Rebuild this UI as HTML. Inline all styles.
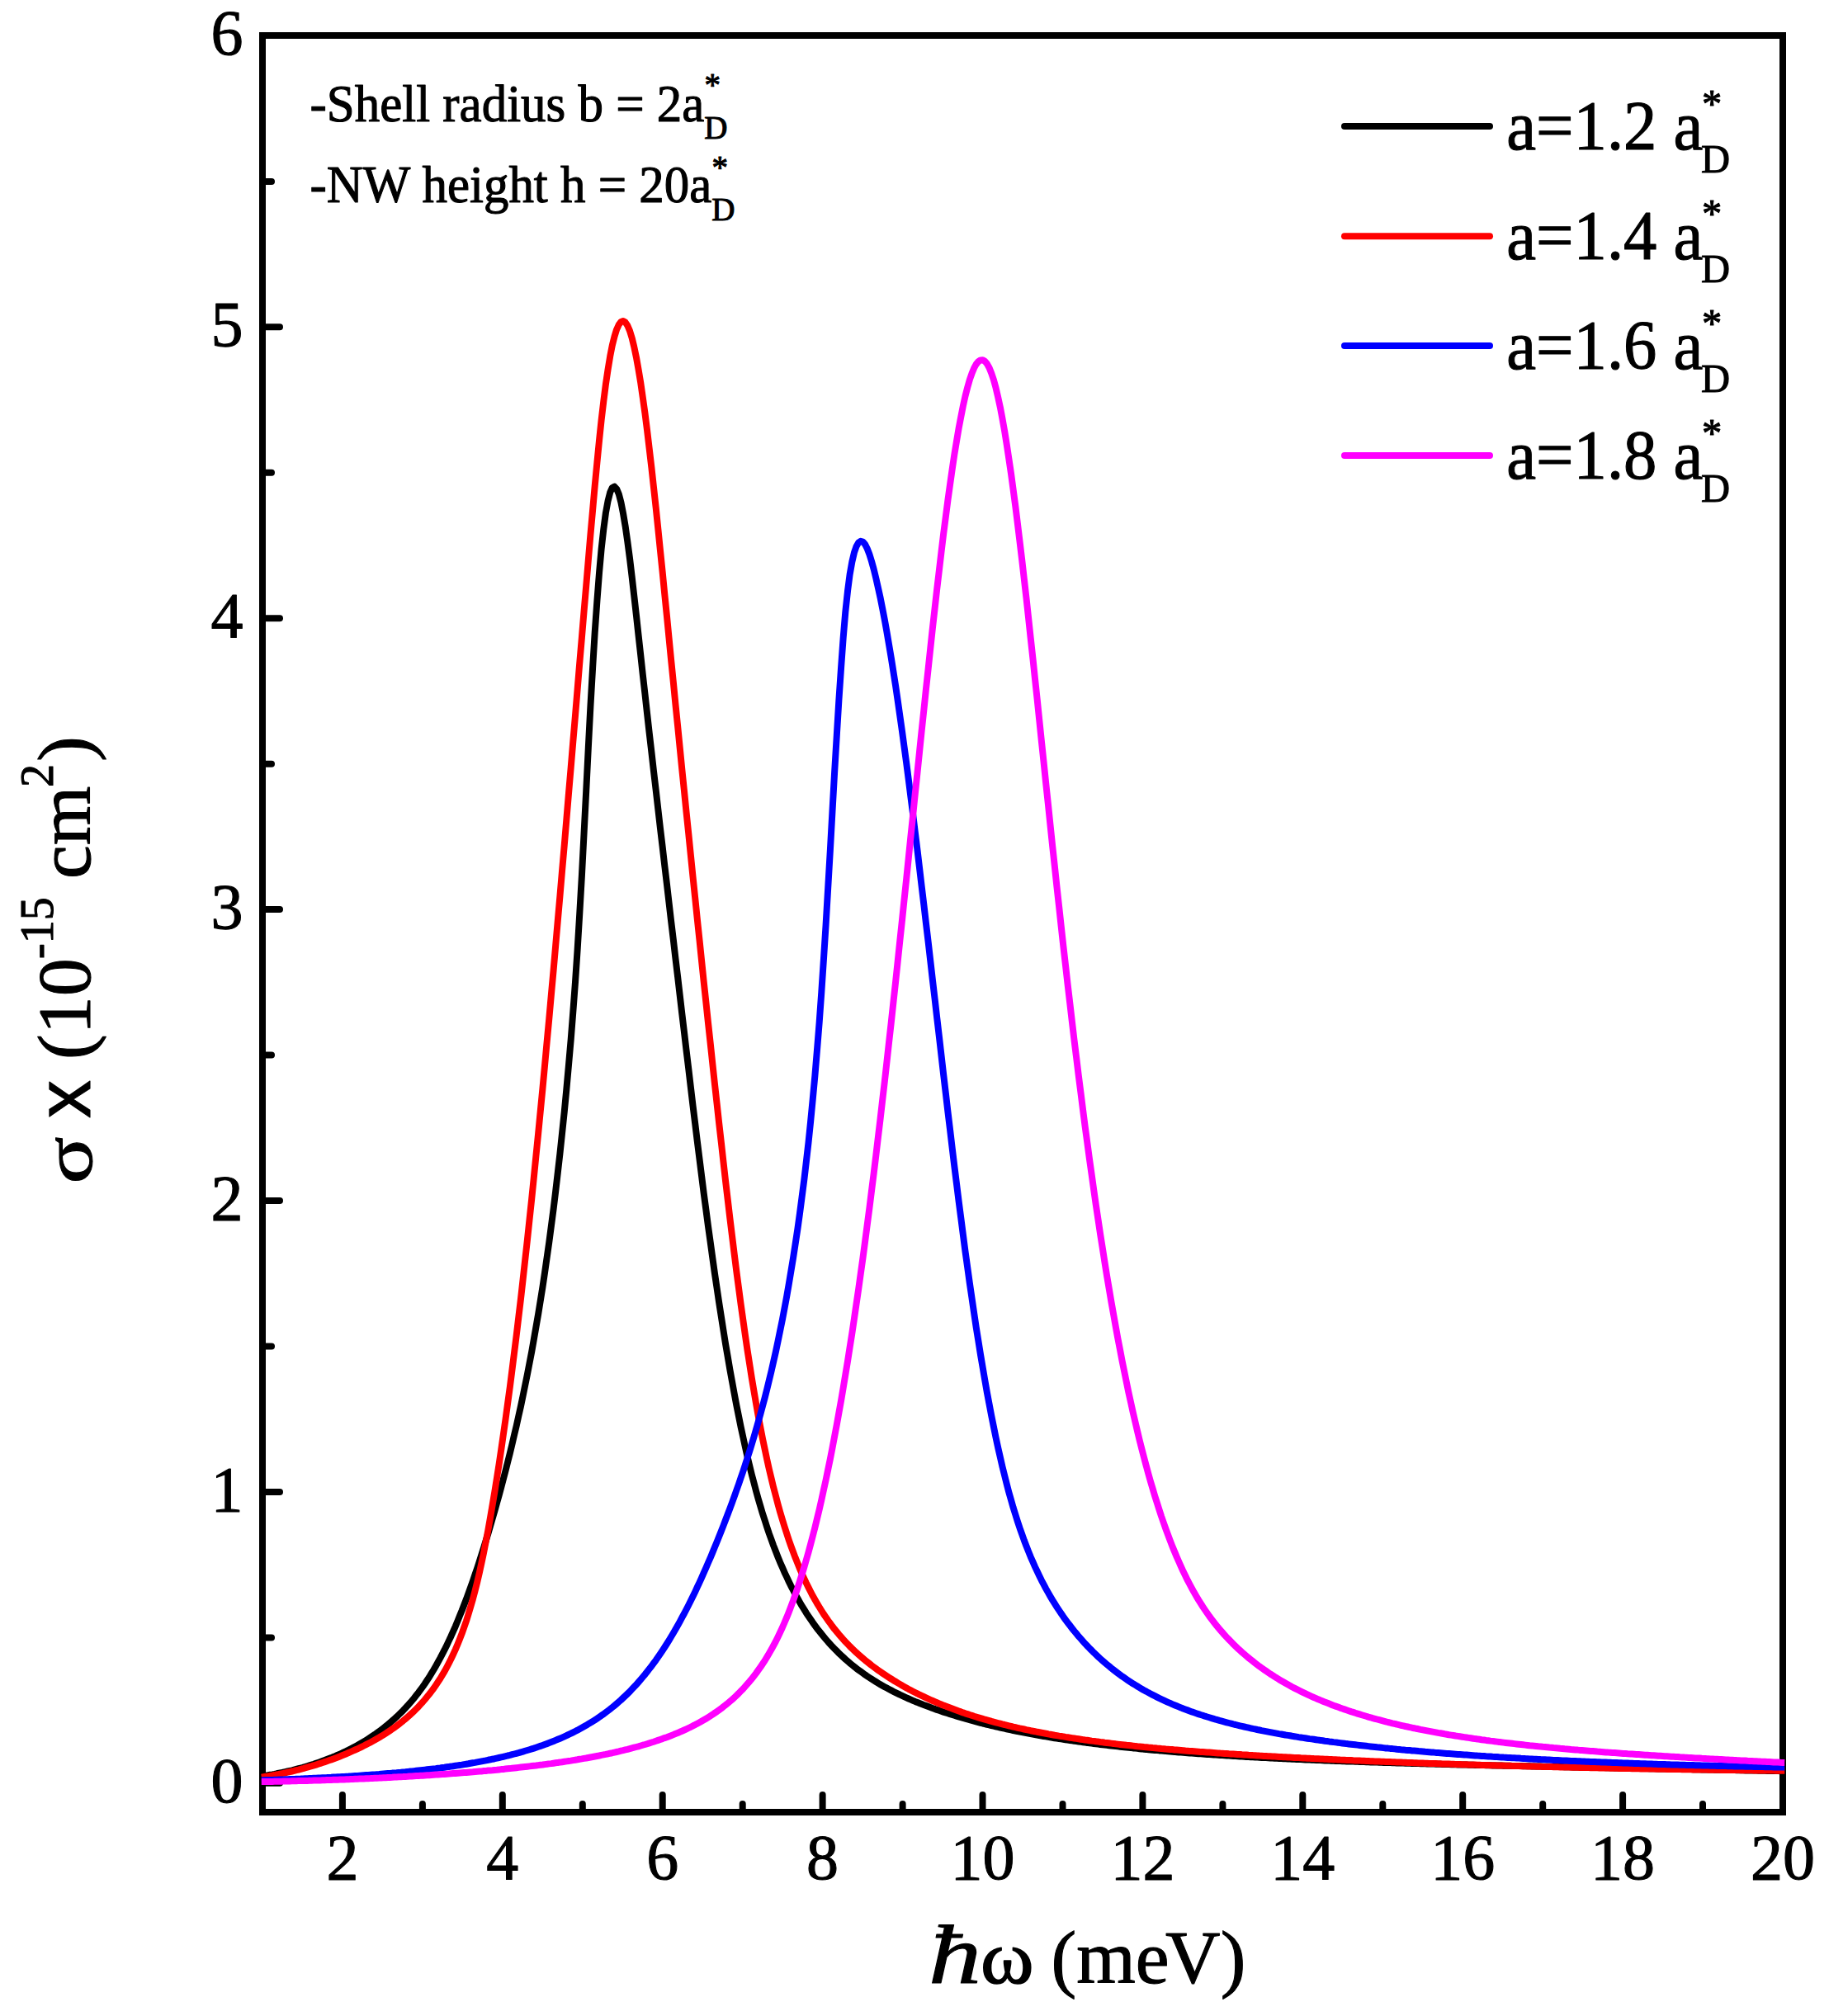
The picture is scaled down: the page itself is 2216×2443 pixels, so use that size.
<!DOCTYPE html>
<html lang="en"><head><meta charset="utf-8"><title>Photoionization cross-section</title>
<style>
html,body{margin:0;padding:0;background:#fff;}
body{width:2216px;height:2443px;overflow:hidden;}
svg{display:block;}
text{font-family:"Liberation Serif",serif;fill:#000;stroke:#000;stroke-width:1.1px;stroke-linejoin:round;}
.sans{font-family:"Liberation Sans",sans-serif;}
</style></head><body>
<svg width="2216" height="2443" viewBox="0 0 2216 2443">
<rect width="2216" height="2443" fill="#fff"/>

<rect x="318.0" y="43.0" width="1842.0" height="2153.0" fill="none" stroke="#000" stroke-width="8" stroke-linejoin="miter"/>
<g stroke="#000" stroke-width="8" stroke-linecap="round" fill="none">
<line x1="414.9" y1="2196.0" x2="414.9" y2="2175.0"/>
<line x1="511.9" y1="2196.0" x2="511.9" y2="2186.0"/>
<line x1="608.8" y1="2196.0" x2="608.8" y2="2175.0"/>
<line x1="705.8" y1="2196.0" x2="705.8" y2="2186.0"/>
<line x1="802.7" y1="2196.0" x2="802.7" y2="2175.0"/>
<line x1="899.7" y1="2196.0" x2="899.7" y2="2186.0"/>
<line x1="996.6" y1="2196.0" x2="996.6" y2="2175.0"/>
<line x1="1093.6" y1="2196.0" x2="1093.6" y2="2186.0"/>
<line x1="1190.5" y1="2196.0" x2="1190.5" y2="2175.0"/>
<line x1="1287.5" y1="2196.0" x2="1287.5" y2="2186.0"/>
<line x1="1384.4" y1="2196.0" x2="1384.4" y2="2175.0"/>
<line x1="1481.4" y1="2196.0" x2="1481.4" y2="2186.0"/>
<line x1="1578.3" y1="2196.0" x2="1578.3" y2="2175.0"/>
<line x1="1675.3" y1="2196.0" x2="1675.3" y2="2186.0"/>
<line x1="1772.2" y1="2196.0" x2="1772.2" y2="2175.0"/>
<line x1="1869.2" y1="2196.0" x2="1869.2" y2="2186.0"/>
<line x1="1966.1" y1="2196.0" x2="1966.1" y2="2175.0"/>
<line x1="2063.0" y1="2196.0" x2="2063.0" y2="2186.0"/>
<line x1="318.0" y1="2160.8" x2="339.0" y2="2160.8"/>
<line x1="318.0" y1="1984.4" x2="329.0" y2="1984.4"/>
<line x1="318.0" y1="1807.9" x2="339.0" y2="1807.9"/>
<line x1="318.0" y1="1631.5" x2="329.0" y2="1631.5"/>
<line x1="318.0" y1="1455.0" x2="339.0" y2="1455.0"/>
<line x1="318.0" y1="1278.6" x2="329.0" y2="1278.6"/>
<line x1="318.0" y1="1102.1" x2="339.0" y2="1102.1"/>
<line x1="318.0" y1="925.7" x2="329.0" y2="925.7"/>
<line x1="318.0" y1="749.2" x2="339.0" y2="749.2"/>
<line x1="318.0" y1="572.8" x2="329.0" y2="572.8"/>
<line x1="318.0" y1="396.3" x2="339.0" y2="396.3"/>
<line x1="318.0" y1="219.9" x2="329.0" y2="219.9"/>
</g>
<path d="M316.8 2152.6 L319.4 2152.2 L322.1 2151.7 L324.7 2151.3 L327.4 2150.8 L330.0 2150.4 L332.6 2149.9 L335.3 2149.3 L337.9 2148.8 L340.6 2148.3 L343.2 2147.7 L345.8 2147.1 L348.5 2146.5 L351.1 2145.9 L353.8 2145.3 L356.4 2144.6 L359.0 2143.9 L361.7 2143.2 L364.3 2142.5 L367.0 2141.8 L369.6 2141.0 L372.2 2140.2 L374.9 2139.4 L377.5 2138.6 L380.2 2137.8 L382.8 2136.9 L385.4 2136.0 L388.1 2135.1 L390.7 2134.1 L393.4 2133.1 L396.0 2132.1 L398.6 2131.1 L401.3 2130.1 L403.9 2129.0 L406.6 2127.9 L409.2 2126.7 L411.8 2125.6 L414.5 2124.4 L417.1 2123.1 L419.8 2121.9 L422.4 2120.6 L425.0 2119.2 L427.7 2117.8 L430.3 2116.4 L433.0 2115.0 L435.6 2113.5 L438.2 2112.0 L440.9 2110.4 L443.5 2108.8 L446.2 2107.1 L448.8 2105.4 L451.4 2103.7 L454.1 2101.9 L456.7 2100.0 L459.4 2098.1 L462.0 2096.1 L464.6 2094.1 L467.3 2092.0 L469.9 2089.9 L472.6 2087.6 L475.2 2085.3 L477.8 2083.0 L480.5 2080.6 L483.1 2078.0 L485.8 2075.4 L488.4 2072.8 L491.0 2070.0 L493.7 2067.1 L496.3 2064.1 L499.0 2061.1 L501.6 2057.9 L504.2 2054.6 L506.9 2051.2 L509.5 2047.7 L512.2 2044.0 L514.8 2040.2 L517.4 2036.2 L520.1 2032.2 L522.7 2027.9 L525.4 2023.5 L528.0 2019.0 L530.6 2014.3 L533.3 2009.4 L535.9 2004.4 L538.6 1999.2 L541.2 1993.9 L543.8 1988.4 L546.5 1982.7 L549.1 1976.8 L551.8 1970.8 L554.4 1964.5 L557.0 1958.1 L559.7 1951.5 L562.3 1944.7 L565.0 1937.8 L567.6 1930.6 L570.2 1923.3 L572.9 1915.8 L575.5 1908.1 L578.2 1900.2 L580.8 1892.2 L583.4 1883.9 L586.1 1875.5 L588.7 1867.0 L591.4 1858.3 L594.0 1849.4 L596.6 1840.4 L599.3 1831.2 L601.9 1821.8 L604.6 1812.2 L607.2 1802.5 L609.8 1792.5 L612.5 1782.3 L615.1 1771.9 L617.8 1761.3 L620.4 1750.4 L623.0 1739.2 L625.7 1727.8 L628.3 1716.0 L631.0 1704.0 L633.6 1691.5 L636.2 1678.7 L638.9 1665.5 L641.5 1651.9 L644.2 1637.9 L646.8 1623.3 L649.4 1608.3 L652.1 1592.7 L654.7 1576.6 L657.4 1559.8 L660.0 1542.3 L662.6 1524.2 L665.3 1505.3 L667.9 1485.5 L670.6 1465.0 L673.2 1443.5 L675.8 1421.0 L678.5 1397.4 L681.1 1372.7 L683.8 1346.8 L686.4 1319.5 L689.0 1290.5 L691.7 1259.6 L694.3 1226.3 L697.0 1190.3 L699.6 1151.2 L702.2 1108.3 L704.9 1061.3 L707.5 1011.0 L710.2 958.8 L712.8 906.4 L715.4 856.1 L718.1 809.3 L720.7 766.6 L723.4 728.3 L726.0 694.5 L728.6 665.5 L731.3 641.2 L733.9 621.6 L736.6 606.9 L739.2 596.7 L741.8 591.0 L744.5 589.7 L747.1 592.4 L749.8 598.8 L752.4 608.8 L755.0 622.0 L757.7 638.0 L760.3 656.3 L763.0 676.6 L765.6 698.5 L768.2 721.4 L770.9 745.2 L773.5 769.3 L776.2 793.6 L778.8 817.6 L781.5 841.4 L784.1 865.0 L786.7 888.3 L789.4 911.5 L792.0 934.6 L794.7 957.5 L797.3 980.4 L799.9 1003.1 L802.6 1025.8 L805.2 1048.4 L807.9 1071.0 L810.5 1093.6 L813.1 1116.1 L815.8 1138.6 L818.4 1161.1 L821.1 1183.6 L823.7 1206.0 L826.3 1228.5 L829.0 1250.9 L831.6 1273.3 L834.3 1295.6 L836.9 1317.8 L839.5 1339.8 L842.2 1361.6 L844.8 1383.1 L847.5 1404.4 L850.1 1425.3 L852.7 1445.9 L855.4 1466.1 L858.0 1485.9 L860.7 1505.3 L863.3 1524.3 L865.9 1542.9 L868.6 1561.0 L871.2 1578.6 L873.9 1595.8 L876.5 1612.5 L879.1 1628.8 L881.8 1644.5 L884.4 1659.8 L887.1 1674.6 L889.7 1688.9 L892.3 1702.8 L895.0 1716.1 L897.6 1729.1 L900.3 1741.5 L902.9 1753.5 L905.5 1765.1 L908.2 1776.2 L910.8 1786.9 L913.5 1797.1 L916.1 1807.0 L918.7 1816.4 L921.4 1825.5 L924.0 1834.3 L926.7 1842.6 L929.3 1850.7 L931.9 1858.5 L934.6 1865.9 L937.2 1873.1 L939.9 1880.0 L942.5 1886.7 L945.1 1893.1 L947.8 1899.2 L950.4 1905.2 L953.1 1910.9 L955.7 1916.5 L958.3 1921.8 L961.0 1927.0 L963.6 1931.9 L966.3 1936.7 L968.9 1941.4 L971.5 1945.9 L974.2 1950.2 L976.8 1954.4 L979.5 1958.4 L982.1 1962.3 L984.7 1966.1 L987.4 1969.8 L990.0 1973.4 L992.7 1976.8 L995.3 1980.1 L997.9 1983.3 L1000.6 1986.5 L1003.2 1989.5 L1005.9 1992.4 L1008.5 1995.3 L1011.1 1998.0 L1013.8 2000.7 L1016.4 2003.3 L1019.1 2005.9 L1021.7 2008.3 L1024.3 2010.7 L1027.0 2013.0 L1029.6 2015.3 L1032.3 2017.5 L1034.9 2019.6 L1037.5 2021.7 L1040.2 2023.7 L1042.8 2025.6 L1045.5 2027.5 L1048.1 2029.4 L1050.7 2031.2 L1053.4 2033.0 L1056.0 2034.7 L1058.7 2036.4 L1061.3 2038.0 L1063.9 2039.6 L1066.6 2041.2 L1069.2 2042.7 L1071.9 2044.2 L1074.5 2045.6 L1077.1 2047.0 L1079.8 2048.4 L1082.4 2049.8 L1085.1 2051.1 L1087.7 2052.4 L1090.3 2053.7 L1093.0 2054.9 L1095.6 2056.1 L1098.3 2057.3 L1100.9 2058.5 L1103.5 2059.6 L1106.2 2060.8 L1108.8 2061.9 L1111.5 2062.9 L1114.1 2064.0 L1116.7 2065.0 L1119.4 2066.1 L1122.0 2067.1 L1124.7 2068.1 L1127.3 2069.0 L1129.9 2070.0 L1132.6 2070.9 L1135.2 2071.9 L1137.9 2072.8 L1140.5 2073.7 L1143.1 2074.6 L1145.8 2075.5 L1148.4 2076.3 L1151.1 2077.2 L1153.7 2078.0 L1156.3 2078.8 L1159.0 2079.6 L1161.6 2080.4 L1164.3 2081.2 L1166.9 2082.0 L1169.5 2082.7 L1172.2 2083.5 L1174.8 2084.2 L1177.5 2085.0 L1180.1 2085.7 L1182.7 2086.4 L1185.4 2087.1 L1188.0 2087.8 L1190.7 2088.5 L1193.3 2089.1 L1195.9 2089.8 L1198.6 2090.4 L1201.2 2091.1 L1203.9 2091.7 L1206.5 2092.3 L1209.1 2092.9 L1211.8 2093.5 L1214.4 2094.1 L1217.1 2094.7 L1219.7 2095.3 L1222.3 2095.9 L1225.0 2096.4 L1227.6 2097.0 L1230.3 2097.5 L1232.9 2098.1 L1235.5 2098.6 L1238.2 2099.1 L1240.8 2099.6 L1243.5 2100.1 L1246.1 2100.6 L1248.7 2101.1 L1251.4 2101.6 L1254.0 2102.1 L1256.7 2102.6 L1259.3 2103.1 L1261.9 2103.5 L1264.6 2104.0 L1267.2 2104.4 L1269.9 2104.9 L1272.5 2105.3 L1275.1 2105.7 L1277.8 2106.2 L1280.4 2106.6 L1283.1 2107.0 L1285.7 2107.4 L1288.3 2107.8 L1291.0 2108.2 L1293.6 2108.6 L1296.3 2109.0 L1298.9 2109.4 L1301.5 2109.8 L1304.2 2110.1 L1306.8 2110.5 L1309.5 2110.9 L1312.1 2111.2 L1314.7 2111.6 L1317.4 2111.9 L1320.0 2112.3 L1322.7 2112.6 L1325.3 2113.0 L1327.9 2113.3 L1330.6 2113.6 L1333.2 2114.0 L1335.9 2114.3 L1338.5 2114.6 L1341.1 2114.9 L1343.8 2115.2 L1346.4 2115.5 L1349.1 2115.8 L1351.7 2116.1 L1354.3 2116.4 L1357.0 2116.7 L1359.6 2117.0 L1362.3 2117.3 L1364.9 2117.6 L1367.5 2117.8 L1370.2 2118.1 L1372.8 2118.4 L1375.5 2118.6 L1378.1 2118.9 L1380.7 2119.2 L1383.4 2119.4 L1386.0 2119.7 L1388.7 2119.9 L1391.3 2120.2 L1393.9 2120.4 L1396.6 2120.7 L1399.2 2120.9 L1401.9 2121.1 L1404.5 2121.4 L1407.1 2121.6 L1409.8 2121.8 L1412.4 2122.1 L1415.1 2122.3 L1417.7 2122.5 L1420.3 2122.7 L1423.0 2122.9 L1425.6 2123.2 L1428.3 2123.4 L1430.9 2123.6 L1433.5 2123.8 L1436.2 2124.0 L1438.8 2124.2 L1441.5 2124.4 L1444.1 2124.6 L1446.7 2124.8 L1449.4 2125.0 L1452.0 2125.2 L1454.7 2125.3 L1457.3 2125.5 L1459.9 2125.7 L1462.6 2125.9 L1465.2 2126.1 L1467.9 2126.3 L1470.5 2126.4 L1473.1 2126.6 L1475.8 2126.8 L1478.4 2126.9 L1481.1 2127.1 L1483.7 2127.3 L1486.3 2127.4 L1489.0 2127.6 L1491.6 2127.8 L1494.3 2127.9 L1496.9 2128.1 L1499.5 2128.2 L1502.2 2128.4 L1504.8 2128.6 L1507.5 2128.7 L1510.1 2128.9 L1512.7 2129.0 L1515.4 2129.2 L1518.0 2129.3 L1520.7 2129.4 L1523.3 2129.6 L1525.9 2129.7 L1528.6 2129.9 L1531.2 2130.0 L1533.9 2130.1 L1536.5 2130.3 L1539.1 2130.4 L1541.8 2130.5 L1544.4 2130.7 L1547.1 2130.8 L1549.7 2130.9 L1552.3 2131.1 L1555.0 2131.2 L1557.6 2131.3 L1560.3 2131.4 L1562.9 2131.6 L1565.5 2131.7 L1568.2 2131.8 L1570.8 2131.9 L1573.5 2132.0 L1576.1 2132.1 L1578.7 2132.3 L1581.4 2132.4 L1584.0 2132.5 L1586.7 2132.6 L1589.3 2132.7 L1591.9 2132.8 L1594.6 2132.9 L1597.2 2133.0 L1599.9 2133.1 L1602.5 2133.3 L1605.1 2133.4 L1607.8 2133.5 L1610.4 2133.6 L1613.1 2133.7 L1615.7 2133.8 L1618.3 2133.9 L1621.0 2134.0 L1623.6 2134.1 L1626.3 2134.2 L1628.9 2134.3 L1631.5 2134.4 L1634.2 2134.5 L1636.8 2134.5 L1639.5 2134.6 L1642.1 2134.7 L1644.7 2134.8 L1647.4 2134.9 L1650.0 2135.0 L1652.7 2135.1 L1655.3 2135.2 L1657.9 2135.3 L1660.6 2135.4 L1663.2 2135.4 L1665.9 2135.5 L1668.5 2135.6 L1671.1 2135.7 L1673.8 2135.8 L1676.4 2135.9 L1679.1 2136.0 L1681.7 2136.0 L1684.3 2136.1 L1687.0 2136.2 L1689.6 2136.3 L1692.3 2136.4 L1694.9 2136.4 L1697.5 2136.5 L1700.2 2136.6 L1702.8 2136.7 L1705.5 2136.7 L1708.1 2136.8 L1710.8 2136.9 L1713.4 2137.0 L1716.0 2137.0 L1718.7 2137.1 L1721.3 2137.2 L1724.0 2137.3 L1726.6 2137.3 L1729.2 2137.4 L1731.9 2137.5 L1734.5 2137.5 L1737.2 2137.6 L1739.8 2137.7 L1742.4 2137.8 L1745.1 2137.8 L1747.7 2137.9 L1750.4 2138.0 L1753.0 2138.0 L1755.6 2138.1 L1758.3 2138.2 L1760.9 2138.2 L1763.6 2138.3 L1766.2 2138.4 L1768.8 2138.4 L1771.5 2138.5 L1774.1 2138.6 L1776.8 2138.6 L1779.4 2138.7 L1782.0 2138.7 L1784.7 2138.8 L1787.3 2138.9 L1790.0 2138.9 L1792.6 2139.0 L1795.2 2139.1 L1797.9 2139.1 L1800.5 2139.2 L1803.2 2139.2 L1805.8 2139.3 L1808.4 2139.4 L1811.1 2139.4 L1813.7 2139.5 L1816.4 2139.5 L1819.0 2139.6 L1821.6 2139.7 L1824.3 2139.7 L1826.9 2139.8 L1829.6 2139.8 L1832.2 2139.9 L1834.8 2139.9 L1837.5 2140.0 L1840.1 2140.1 L1842.8 2140.1 L1845.4 2140.2 L1848.0 2140.2 L1850.7 2140.3 L1853.3 2140.3 L1856.0 2140.4 L1858.6 2140.4 L1861.2 2140.5 L1863.9 2140.6 L1866.5 2140.6 L1869.2 2140.7 L1871.8 2140.7 L1874.4 2140.8 L1877.1 2140.8 L1879.7 2140.9 L1882.4 2140.9 L1885.0 2141.0 L1887.6 2141.0 L1890.3 2141.1 L1892.9 2141.1 L1895.6 2141.2 L1898.2 2141.2 L1900.8 2141.3 L1903.5 2141.3 L1906.1 2141.4 L1908.8 2141.5 L1911.4 2141.5 L1914.0 2141.6 L1916.7 2141.6 L1919.3 2141.7 L1922.0 2141.7 L1924.6 2141.8 L1927.2 2141.8 L1929.9 2141.9 L1932.5 2141.9 L1935.2 2142.0 L1937.8 2142.0 L1940.4 2142.1 L1943.1 2142.1 L1945.7 2142.2 L1948.4 2142.2 L1951.0 2142.3 L1953.6 2142.3 L1956.3 2142.4 L1958.9 2142.4 L1961.6 2142.5 L1964.2 2142.5 L1966.8 2142.6 L1969.5 2142.6 L1972.1 2142.7 L1974.8 2142.7 L1977.4 2142.8 L1980.0 2142.8 L1982.7 2142.9 L1985.3 2142.9 L1988.0 2143.0 L1990.6 2143.0 L1993.2 2143.1 L1995.9 2143.1 L1998.5 2143.2 L2001.2 2143.2 L2003.8 2143.3 L2006.4 2143.3 L2009.1 2143.4 L2011.7 2143.4 L2014.4 2143.5 L2017.0 2143.5 L2019.6 2143.6 L2022.3 2143.6 L2024.9 2143.7 L2027.6 2143.7 L2030.2 2143.8 L2032.8 2143.8 L2035.5 2143.9 L2038.1 2143.9 L2040.8 2144.0 L2043.4 2144.0 L2046.0 2144.1 L2048.7 2144.1 L2051.3 2144.2 L2054.0 2144.2 L2056.6 2144.3 L2059.2 2144.3 L2061.9 2144.4 L2064.5 2144.4 L2067.2 2144.5 L2069.8 2144.5 L2072.4 2144.6 L2075.1 2144.6 L2077.7 2144.7 L2080.4 2144.7 L2083.0 2144.8 L2085.6 2144.8 L2088.3 2144.9 L2090.9 2144.9 L2093.6 2145.0 L2096.2 2145.0 L2098.8 2145.1 L2101.5 2145.1 L2104.1 2145.2 L2106.8 2145.2 L2109.4 2145.3 L2112.0 2145.3 L2114.7 2145.4 L2117.3 2145.4 L2120.0 2145.5 L2122.6 2145.5 L2125.2 2145.6 L2127.9 2145.6 L2130.5 2145.7 L2133.2 2145.7 L2135.8 2145.8 L2138.4 2145.8 L2141.1 2145.9 L2143.7 2145.9 L2146.4 2146.0 L2149.0 2146.0 L2151.6 2146.1 L2154.3 2146.1 L2156.9 2146.2 L2159.6 2146.2 L2162.2 2146.3" fill="none" stroke="#000000" stroke-width="8" stroke-linejoin="round" stroke-linecap="butt"/>
<path d="M316.8 2153.6 L319.4 2153.2 L322.1 2152.8 L324.7 2152.4 L327.4 2151.9 L330.0 2151.5 L332.6 2151.0 L335.3 2150.5 L337.9 2150.0 L340.6 2149.4 L343.2 2148.9 L345.8 2148.3 L348.5 2147.7 L351.1 2147.1 L353.8 2146.5 L356.4 2145.9 L359.0 2145.2 L361.7 2144.6 L364.3 2143.9 L367.0 2143.2 L369.6 2142.4 L372.2 2141.7 L374.9 2140.9 L377.5 2140.2 L380.2 2139.4 L382.8 2138.6 L385.4 2137.7 L388.1 2136.9 L390.7 2136.0 L393.4 2135.1 L396.0 2134.2 L398.6 2133.3 L401.3 2132.4 L403.9 2131.4 L406.6 2130.4 L409.2 2129.4 L411.8 2128.4 L414.5 2127.3 L417.1 2126.3 L419.8 2125.2 L422.4 2124.0 L425.0 2122.9 L427.7 2121.7 L430.3 2120.5 L433.0 2119.3 L435.6 2118.1 L438.2 2116.8 L440.9 2115.5 L443.5 2114.2 L446.2 2112.8 L448.8 2111.4 L451.4 2110.0 L454.1 2108.5 L456.7 2107.0 L459.4 2105.5 L462.0 2103.9 L464.6 2102.3 L467.3 2100.6 L469.9 2098.9 L472.6 2097.1 L475.2 2095.3 L477.8 2093.4 L480.5 2091.5 L483.1 2089.5 L485.8 2087.4 L488.4 2085.3 L491.0 2083.1 L493.7 2080.9 L496.3 2078.5 L499.0 2076.1 L501.6 2073.6 L504.2 2071.0 L506.9 2068.3 L509.5 2065.4 L512.2 2062.5 L514.8 2059.5 L517.4 2056.3 L520.1 2053.0 L522.7 2049.6 L525.4 2046.0 L528.0 2042.2 L530.6 2038.3 L533.3 2034.2 L535.9 2029.9 L538.6 2025.4 L541.2 2020.6 L543.8 2015.6 L546.5 2010.3 L549.1 2004.8 L551.8 1998.9 L554.4 1992.7 L557.0 1986.2 L559.7 1979.3 L562.3 1971.9 L565.0 1964.2 L567.6 1955.9 L570.2 1947.2 L572.9 1937.8 L575.5 1927.9 L578.2 1917.3 L580.8 1906.1 L583.4 1894.1 L586.1 1881.4 L588.7 1868.1 L591.4 1854.0 L594.0 1839.3 L596.6 1823.9 L599.3 1808.0 L601.9 1791.5 L604.6 1774.5 L607.2 1756.9 L609.8 1738.7 L612.5 1720.0 L615.1 1700.8 L617.8 1681.0 L620.4 1660.6 L623.0 1639.7 L625.7 1618.2 L628.3 1596.2 L631.0 1573.7 L633.6 1550.5 L636.2 1526.9 L638.9 1502.7 L641.5 1478.0 L644.2 1452.8 L646.8 1427.1 L649.4 1400.9 L652.1 1374.2 L654.7 1347.1 L657.4 1319.5 L660.0 1291.5 L662.6 1263.1 L665.3 1234.3 L667.9 1205.1 L670.6 1175.6 L673.2 1145.7 L675.8 1115.6 L678.5 1085.2 L681.1 1054.5 L683.8 1023.7 L686.4 992.6 L689.0 961.4 L691.7 930.0 L694.3 898.6 L697.0 867.1 L699.6 835.6 L702.2 804.1 L704.9 772.6 L707.5 741.3 L710.2 710.0 L712.8 678.9 L715.4 648.2 L718.1 618.1 L720.7 588.8 L723.4 560.7 L726.0 534.0 L728.6 509.1 L731.3 486.3 L733.9 465.8 L736.6 447.6 L739.2 431.8 L741.8 418.5 L744.5 407.7 L747.1 399.3 L749.8 393.4 L752.4 390.0 L755.0 389.1 L757.7 390.6 L760.3 394.5 L763.0 400.8 L765.6 409.3 L768.2 420.0 L770.9 432.8 L773.5 447.4 L776.2 463.7 L778.8 481.7 L781.5 501.1 L784.1 521.8 L786.7 543.8 L789.4 566.7 L792.0 590.6 L794.7 615.3 L797.3 640.6 L799.9 666.4 L802.6 692.7 L805.2 719.3 L807.9 746.0 L810.5 772.8 L813.1 799.7 L815.8 826.4 L818.4 853.1 L821.1 879.6 L823.7 906.0 L826.3 932.4 L829.0 958.6 L831.6 984.7 L834.3 1010.7 L836.9 1036.6 L839.5 1062.4 L842.2 1088.1 L844.8 1113.7 L847.5 1139.2 L850.1 1164.5 L852.7 1189.6 L855.4 1214.7 L858.0 1239.5 L860.7 1264.2 L863.3 1288.8 L865.9 1313.1 L868.6 1337.3 L871.2 1361.2 L873.9 1384.9 L876.5 1408.4 L879.1 1431.5 L881.8 1454.2 L884.4 1476.5 L887.1 1498.4 L889.7 1519.7 L892.3 1540.5 L895.0 1560.8 L897.6 1580.5 L900.3 1599.6 L902.9 1618.0 L905.5 1635.9 L908.2 1653.2 L910.8 1669.8 L913.5 1685.8 L916.1 1701.1 L918.7 1715.9 L921.4 1730.0 L924.0 1743.5 L926.7 1756.4 L929.3 1768.8 L931.9 1780.5 L934.6 1791.8 L937.2 1802.6 L939.9 1812.8 L942.5 1822.7 L945.1 1832.1 L947.8 1841.1 L950.4 1849.7 L953.1 1858.0 L955.7 1865.9 L958.3 1873.4 L961.0 1880.7 L963.6 1887.6 L966.3 1894.3 L968.9 1900.7 L971.5 1906.8 L974.2 1912.6 L976.8 1918.2 L979.5 1923.6 L982.1 1928.8 L984.7 1933.8 L987.4 1938.5 L990.0 1943.1 L992.7 1947.5 L995.3 1951.8 L997.9 1955.9 L1000.6 1959.8 L1003.2 1963.6 L1005.9 1967.2 L1008.5 1970.8 L1011.1 1974.2 L1013.8 1977.4 L1016.4 1980.6 L1019.1 1983.7 L1021.7 1986.6 L1024.3 1989.5 L1027.0 1992.3 L1029.6 1995.0 L1032.3 1997.6 L1034.9 2000.1 L1037.5 2002.6 L1040.2 2005.0 L1042.8 2007.3 L1045.5 2009.6 L1048.1 2011.8 L1050.7 2013.9 L1053.4 2016.0 L1056.0 2018.1 L1058.7 2020.1 L1061.3 2022.0 L1063.9 2023.9 L1066.6 2025.8 L1069.2 2027.6 L1071.9 2029.4 L1074.5 2031.1 L1077.1 2032.8 L1079.8 2034.5 L1082.4 2036.2 L1085.1 2037.8 L1087.7 2039.4 L1090.3 2040.9 L1093.0 2042.5 L1095.6 2043.9 L1098.3 2045.4 L1100.9 2046.9 L1103.5 2048.3 L1106.2 2049.7 L1108.8 2051.0 L1111.5 2052.3 L1114.1 2053.7 L1116.7 2054.9 L1119.4 2056.2 L1122.0 2057.4 L1124.7 2058.6 L1127.3 2059.8 L1129.9 2061.0 L1132.6 2062.2 L1135.2 2063.3 L1137.9 2064.4 L1140.5 2065.5 L1143.1 2066.6 L1145.8 2067.6 L1148.4 2068.6 L1151.1 2069.6 L1153.7 2070.6 L1156.3 2071.6 L1159.0 2072.6 L1161.6 2073.5 L1164.3 2074.4 L1166.9 2075.4 L1169.5 2076.3 L1172.2 2077.1 L1174.8 2078.0 L1177.5 2078.8 L1180.1 2079.7 L1182.7 2080.5 L1185.4 2081.3 L1188.0 2082.1 L1190.7 2082.9 L1193.3 2083.7 L1195.9 2084.4 L1198.6 2085.1 L1201.2 2085.9 L1203.9 2086.6 L1206.5 2087.3 L1209.1 2088.0 L1211.8 2088.7 L1214.4 2089.4 L1217.1 2090.0 L1219.7 2090.7 L1222.3 2091.3 L1225.0 2091.9 L1227.6 2092.6 L1230.3 2093.2 L1232.9 2093.8 L1235.5 2094.4 L1238.2 2094.9 L1240.8 2095.5 L1243.5 2096.1 L1246.1 2096.6 L1248.7 2097.2 L1251.4 2097.7 L1254.0 2098.2 L1256.7 2098.8 L1259.3 2099.3 L1261.9 2099.8 L1264.6 2100.3 L1267.2 2100.8 L1269.9 2101.3 L1272.5 2101.7 L1275.1 2102.2 L1277.8 2102.7 L1280.4 2103.1 L1283.1 2103.6 L1285.7 2104.0 L1288.3 2104.4 L1291.0 2104.9 L1293.6 2105.3 L1296.3 2105.7 L1298.9 2106.1 L1301.5 2106.5 L1304.2 2106.9 L1306.8 2107.3 L1309.5 2107.7 L1312.1 2108.1 L1314.7 2108.5 L1317.4 2108.8 L1320.0 2109.2 L1322.7 2109.6 L1325.3 2109.9 L1327.9 2110.3 L1330.6 2110.6 L1333.2 2111.0 L1335.9 2111.3 L1338.5 2111.7 L1341.1 2112.0 L1343.8 2112.3 L1346.4 2112.6 L1349.1 2112.9 L1351.7 2113.3 L1354.3 2113.6 L1357.0 2113.9 L1359.6 2114.2 L1362.3 2114.5 L1364.9 2114.8 L1367.5 2115.0 L1370.2 2115.3 L1372.8 2115.6 L1375.5 2115.9 L1378.1 2116.2 L1380.7 2116.4 L1383.4 2116.7 L1386.0 2117.0 L1388.7 2117.2 L1391.3 2117.5 L1393.9 2117.7 L1396.6 2118.0 L1399.2 2118.2 L1401.9 2118.5 L1404.5 2118.7 L1407.1 2119.0 L1409.8 2119.2 L1412.4 2119.5 L1415.1 2119.7 L1417.7 2119.9 L1420.3 2120.1 L1423.0 2120.4 L1425.6 2120.6 L1428.3 2120.8 L1430.9 2121.0 L1433.5 2121.2 L1436.2 2121.5 L1438.8 2121.7 L1441.5 2121.9 L1444.1 2122.1 L1446.7 2122.3 L1449.4 2122.5 L1452.0 2122.7 L1454.7 2122.9 L1457.3 2123.1 L1459.9 2123.3 L1462.6 2123.5 L1465.2 2123.6 L1467.9 2123.8 L1470.5 2124.0 L1473.1 2124.2 L1475.8 2124.4 L1478.4 2124.6 L1481.1 2124.7 L1483.7 2124.9 L1486.3 2125.1 L1489.0 2125.3 L1491.6 2125.4 L1494.3 2125.6 L1496.9 2125.8 L1499.5 2126.0 L1502.2 2126.1 L1504.8 2126.3 L1507.5 2126.4 L1510.1 2126.6 L1512.7 2126.8 L1515.4 2126.9 L1518.0 2127.1 L1520.7 2127.2 L1523.3 2127.4 L1525.9 2127.6 L1528.6 2127.7 L1531.2 2127.9 L1533.9 2128.0 L1536.5 2128.2 L1539.1 2128.3 L1541.8 2128.5 L1544.4 2128.6 L1547.1 2128.7 L1549.7 2128.9 L1552.3 2129.0 L1555.0 2129.2 L1557.6 2129.3 L1560.3 2129.5 L1562.9 2129.6 L1565.5 2129.7 L1568.2 2129.9 L1570.8 2130.0 L1573.5 2130.1 L1576.1 2130.3 L1578.7 2130.4 L1581.4 2130.5 L1584.0 2130.7 L1586.7 2130.8 L1589.3 2130.9 L1591.9 2131.1 L1594.6 2131.2 L1597.2 2131.3 L1599.9 2131.5 L1602.5 2131.6 L1605.1 2131.7 L1607.8 2131.8 L1610.4 2132.0 L1613.1 2132.1 L1615.7 2132.2 L1618.3 2132.3 L1621.0 2132.4 L1623.6 2132.6 L1626.3 2132.7 L1628.9 2132.8 L1631.5 2132.9 L1634.2 2133.0 L1636.8 2133.1 L1639.5 2133.3 L1642.1 2133.4 L1644.7 2133.5 L1647.4 2133.6 L1650.0 2133.7 L1652.7 2133.8 L1655.3 2133.9 L1657.9 2134.0 L1660.6 2134.2 L1663.2 2134.3 L1665.9 2134.4 L1668.5 2134.5 L1671.1 2134.6 L1673.8 2134.7 L1676.4 2134.8 L1679.1 2134.9 L1681.7 2135.0 L1684.3 2135.1 L1687.0 2135.2 L1689.6 2135.3 L1692.3 2135.4 L1694.9 2135.5 L1697.5 2135.6 L1700.2 2135.7 L1702.8 2135.8 L1705.5 2135.9 L1708.1 2136.0 L1710.8 2136.1 L1713.4 2136.2 L1716.0 2136.3 L1718.7 2136.4 L1721.3 2136.5 L1724.0 2136.6 L1726.6 2136.7 L1729.2 2136.8 L1731.9 2136.9 L1734.5 2136.9 L1737.2 2137.0 L1739.8 2137.1 L1742.4 2137.2 L1745.1 2137.3 L1747.7 2137.4 L1750.4 2137.5 L1753.0 2137.6 L1755.6 2137.6 L1758.3 2137.7 L1760.9 2137.8 L1763.6 2137.9 L1766.2 2138.0 L1768.8 2138.1 L1771.5 2138.2 L1774.1 2138.2 L1776.8 2138.3 L1779.4 2138.4 L1782.0 2138.5 L1784.7 2138.6 L1787.3 2138.6 L1790.0 2138.7 L1792.6 2138.8 L1795.2 2138.9 L1797.9 2139.0 L1800.5 2139.0 L1803.2 2139.1 L1805.8 2139.2 L1808.4 2139.3 L1811.1 2139.3 L1813.7 2139.4 L1816.4 2139.5 L1819.0 2139.6 L1821.6 2139.6 L1824.3 2139.7 L1826.9 2139.8 L1829.6 2139.8 L1832.2 2139.9 L1834.8 2140.0 L1837.5 2140.1 L1840.1 2140.1 L1842.8 2140.2 L1845.4 2140.3 L1848.0 2140.3 L1850.7 2140.4 L1853.3 2140.5 L1856.0 2140.5 L1858.6 2140.6 L1861.2 2140.7 L1863.9 2140.7 L1866.5 2140.8 L1869.2 2140.9 L1871.8 2140.9 L1874.4 2141.0 L1877.1 2141.1 L1879.7 2141.1 L1882.4 2141.2 L1885.0 2141.2 L1887.6 2141.3 L1890.3 2141.4 L1892.9 2141.4 L1895.6 2141.5 L1898.2 2141.5 L1900.8 2141.6 L1903.5 2141.7 L1906.1 2141.7 L1908.8 2141.8 L1911.4 2141.8 L1914.0 2141.9 L1916.7 2142.0 L1919.3 2142.0 L1922.0 2142.1 L1924.6 2142.1 L1927.2 2142.2 L1929.9 2142.2 L1932.5 2142.3 L1935.2 2142.3 L1937.8 2142.4 L1940.4 2142.4 L1943.1 2142.5 L1945.7 2142.6 L1948.4 2142.6 L1951.0 2142.7 L1953.6 2142.7 L1956.3 2142.8 L1958.9 2142.8 L1961.6 2142.9 L1964.2 2142.9 L1966.8 2143.0 L1969.5 2143.0 L1972.1 2143.1 L1974.8 2143.1 L1977.4 2143.2 L1980.0 2143.2 L1982.7 2143.3 L1985.3 2143.3 L1988.0 2143.4 L1990.6 2143.4 L1993.2 2143.4 L1995.9 2143.5 L1998.5 2143.5 L2001.2 2143.6 L2003.8 2143.6 L2006.4 2143.7 L2009.1 2143.7 L2011.7 2143.8 L2014.4 2143.8 L2017.0 2143.8 L2019.6 2143.9 L2022.3 2143.9 L2024.9 2144.0 L2027.6 2144.0 L2030.2 2144.1 L2032.8 2144.1 L2035.5 2144.1 L2038.1 2144.2 L2040.8 2144.2 L2043.4 2144.3 L2046.0 2144.3 L2048.7 2144.3 L2051.3 2144.4 L2054.0 2144.4 L2056.6 2144.5 L2059.2 2144.5 L2061.9 2144.5 L2064.5 2144.6 L2067.2 2144.6 L2069.8 2144.7 L2072.4 2144.7 L2075.1 2144.7 L2077.7 2144.8 L2080.4 2144.8 L2083.0 2144.8 L2085.6 2144.9 L2088.3 2144.9 L2090.9 2144.9 L2093.6 2145.0 L2096.2 2145.0 L2098.8 2145.0 L2101.5 2145.1 L2104.1 2145.1 L2106.8 2145.1 L2109.4 2145.2 L2112.0 2145.2 L2114.7 2145.2 L2117.3 2145.3 L2120.0 2145.3 L2122.6 2145.3 L2125.2 2145.4 L2127.9 2145.4 L2130.5 2145.4 L2133.2 2145.5 L2135.8 2145.5 L2138.4 2145.5 L2141.1 2145.6 L2143.7 2145.6 L2146.4 2145.6 L2149.0 2145.6 L2151.6 2145.7 L2154.3 2145.7 L2156.9 2145.7 L2159.6 2145.8 L2162.2 2145.8" fill="none" stroke="#ff0000" stroke-width="8" stroke-linejoin="round" stroke-linecap="butt"/>
<path d="M316.8 2157.3 L319.4 2157.2 L322.1 2157.1 L324.7 2157.0 L327.4 2156.9 L330.0 2156.9 L332.6 2156.8 L335.3 2156.7 L337.9 2156.6 L340.6 2156.5 L343.2 2156.4 L345.8 2156.3 L348.5 2156.2 L351.1 2156.1 L353.8 2156.0 L356.4 2155.9 L359.0 2155.8 L361.7 2155.7 L364.3 2155.6 L367.0 2155.4 L369.6 2155.3 L372.2 2155.2 L374.9 2155.1 L377.5 2155.0 L380.2 2154.8 L382.8 2154.7 L385.4 2154.6 L388.1 2154.5 L390.7 2154.3 L393.4 2154.2 L396.0 2154.1 L398.6 2153.9 L401.3 2153.8 L403.9 2153.6 L406.6 2153.5 L409.2 2153.3 L411.8 2153.2 L414.5 2153.0 L417.1 2152.9 L419.8 2152.7 L422.4 2152.6 L425.0 2152.4 L427.7 2152.2 L430.3 2152.0 L433.0 2151.9 L435.6 2151.7 L438.2 2151.5 L440.9 2151.3 L443.5 2151.1 L446.2 2151.0 L448.8 2150.8 L451.4 2150.6 L454.1 2150.4 L456.7 2150.2 L459.4 2150.0 L462.0 2149.7 L464.6 2149.5 L467.3 2149.3 L469.9 2149.1 L472.6 2148.9 L475.2 2148.6 L477.8 2148.4 L480.5 2148.2 L483.1 2147.9 L485.8 2147.7 L488.4 2147.4 L491.0 2147.2 L493.7 2146.9 L496.3 2146.6 L499.0 2146.4 L501.6 2146.1 L504.2 2145.8 L506.9 2145.5 L509.5 2145.2 L512.2 2144.9 L514.8 2144.6 L517.4 2144.3 L520.1 2144.0 L522.7 2143.7 L525.4 2143.4 L528.0 2143.1 L530.6 2142.7 L533.3 2142.4 L535.9 2142.0 L538.6 2141.7 L541.2 2141.3 L543.8 2140.9 L546.5 2140.6 L549.1 2140.2 L551.8 2139.8 L554.4 2139.4 L557.0 2139.0 L559.7 2138.6 L562.3 2138.1 L565.0 2137.7 L567.6 2137.3 L570.2 2136.8 L572.9 2136.3 L575.5 2135.9 L578.2 2135.4 L580.8 2134.9 L583.4 2134.4 L586.1 2133.9 L588.7 2133.4 L591.4 2132.8 L594.0 2132.3 L596.6 2131.7 L599.3 2131.2 L601.9 2130.6 L604.6 2130.0 L607.2 2129.4 L609.8 2128.8 L612.5 2128.2 L615.1 2127.5 L617.8 2126.9 L620.4 2126.2 L623.0 2125.5 L625.7 2124.8 L628.3 2124.1 L631.0 2123.3 L633.6 2122.6 L636.2 2121.8 L638.9 2121.0 L641.5 2120.2 L644.2 2119.4 L646.8 2118.6 L649.4 2117.7 L652.1 2116.8 L654.7 2115.9 L657.4 2115.0 L660.0 2114.0 L662.6 2113.1 L665.3 2112.1 L667.9 2111.1 L670.6 2110.0 L673.2 2108.9 L675.8 2107.8 L678.5 2106.7 L681.1 2105.6 L683.8 2104.4 L686.4 2103.2 L689.0 2101.9 L691.7 2100.7 L694.3 2099.4 L697.0 2098.0 L699.6 2096.7 L702.2 2095.3 L704.9 2093.8 L707.5 2092.3 L710.2 2090.8 L712.8 2089.2 L715.4 2087.6 L718.1 2086.0 L720.7 2084.3 L723.4 2082.6 L726.0 2080.8 L728.6 2078.9 L731.3 2077.1 L733.9 2075.1 L736.6 2073.1 L739.2 2071.1 L741.8 2069.0 L744.5 2066.8 L747.1 2064.6 L749.8 2062.3 L752.4 2060.0 L755.0 2057.5 L757.7 2055.0 L760.3 2052.5 L763.0 2049.8 L765.6 2047.1 L768.2 2044.3 L770.9 2041.4 L773.5 2038.5 L776.2 2035.4 L778.8 2032.3 L781.5 2029.1 L784.1 2025.8 L786.7 2022.4 L789.4 2019.0 L792.0 2015.4 L794.7 2011.8 L797.3 2008.0 L799.9 2004.2 L802.6 2000.2 L805.2 1996.2 L807.9 1992.0 L810.5 1987.8 L813.1 1983.5 L815.8 1979.0 L818.4 1974.5 L821.1 1969.8 L823.7 1965.1 L826.3 1960.2 L829.0 1955.3 L831.6 1950.2 L834.3 1945.0 L836.9 1939.8 L839.5 1934.4 L842.2 1928.9 L844.8 1923.3 L847.5 1917.6 L850.1 1911.8 L852.7 1905.9 L855.4 1899.9 L858.0 1893.8 L860.7 1887.7 L863.3 1881.4 L865.9 1875.0 L868.6 1868.5 L871.2 1862.0 L873.9 1855.3 L876.5 1848.6 L879.1 1841.8 L881.8 1834.8 L884.4 1827.8 L887.1 1820.7 L889.7 1813.4 L892.3 1806.0 L895.0 1798.5 L897.6 1790.8 L900.3 1783.0 L902.9 1775.0 L905.5 1766.9 L908.2 1758.5 L910.8 1750.0 L913.5 1741.2 L916.1 1732.2 L918.7 1723.0 L921.4 1713.5 L924.0 1703.7 L926.7 1693.6 L929.3 1683.2 L931.9 1672.5 L934.6 1661.4 L937.2 1649.9 L939.9 1638.0 L942.5 1625.7 L945.1 1612.9 L947.8 1599.7 L950.4 1585.9 L953.1 1571.5 L955.7 1556.5 L958.3 1540.9 L961.0 1524.7 L963.6 1507.7 L966.3 1489.9 L968.9 1471.1 L971.5 1451.3 L974.2 1430.4 L976.8 1408.2 L979.5 1384.6 L982.1 1359.3 L984.7 1332.3 L987.4 1303.3 L990.0 1272.2 L992.7 1238.6 L995.3 1202.3 L997.9 1162.9 L1000.6 1120.7 L1003.2 1076.0 L1005.9 1029.7 L1008.5 982.8 L1011.1 936.3 L1013.8 891.2 L1016.4 848.2 L1019.1 808.4 L1021.7 772.5 L1024.3 741.6 L1027.0 716.3 L1029.6 696.3 L1032.3 681.0 L1034.9 669.8 L1037.5 662.2 L1040.2 657.6 L1042.8 655.8 L1045.5 656.5 L1048.1 659.6 L1050.7 664.8 L1053.4 671.7 L1056.0 680.1 L1058.7 689.9 L1061.3 700.6 L1063.9 712.1 L1066.6 724.4 L1069.2 737.6 L1071.9 751.4 L1074.5 766.0 L1077.1 781.3 L1079.8 797.3 L1082.4 813.9 L1085.1 831.1 L1087.7 848.9 L1090.3 867.3 L1093.0 886.2 L1095.6 905.5 L1098.3 925.4 L1100.9 945.6 L1103.5 966.3 L1106.2 987.3 L1108.8 1008.7 L1111.5 1030.3 L1114.1 1052.2 L1116.7 1074.4 L1119.4 1096.7 L1122.0 1119.2 L1124.7 1141.9 L1127.3 1164.6 L1129.9 1187.5 L1132.6 1210.4 L1135.2 1233.3 L1137.9 1256.2 L1140.5 1279.0 L1143.1 1301.8 L1145.8 1324.5 L1148.4 1347.0 L1151.1 1369.3 L1153.7 1391.4 L1156.3 1413.1 L1159.0 1434.6 L1161.6 1455.6 L1164.3 1476.3 L1166.9 1496.5 L1169.5 1516.4 L1172.2 1535.7 L1174.8 1554.6 L1177.5 1573.0 L1180.1 1590.9 L1182.7 1608.3 L1185.4 1625.2 L1188.0 1641.5 L1190.7 1657.4 L1193.3 1672.7 L1195.9 1687.5 L1198.6 1701.8 L1201.2 1715.6 L1203.9 1728.9 L1206.5 1741.7 L1209.1 1753.9 L1211.8 1765.7 L1214.4 1777.1 L1217.1 1787.9 L1219.7 1798.3 L1222.3 1808.2 L1225.0 1817.7 L1227.6 1826.8 L1230.3 1835.4 L1232.9 1843.7 L1235.5 1851.6 L1238.2 1859.2 L1240.8 1866.5 L1243.5 1873.5 L1246.1 1880.1 L1248.7 1886.6 L1251.4 1892.7 L1254.0 1898.6 L1256.7 1904.3 L1259.3 1909.8 L1261.9 1915.1 L1264.6 1920.2 L1267.2 1925.1 L1269.9 1929.9 L1272.5 1934.5 L1275.1 1938.9 L1277.8 1943.2 L1280.4 1947.3 L1283.1 1951.4 L1285.7 1955.3 L1288.3 1959.1 L1291.0 1962.8 L1293.6 1966.3 L1296.3 1969.8 L1298.9 1973.2 L1301.5 1976.5 L1304.2 1979.7 L1306.8 1982.9 L1309.5 1985.9 L1312.1 1988.9 L1314.7 1991.8 L1317.4 1994.6 L1320.0 1997.4 L1322.7 2000.0 L1325.3 2002.7 L1327.9 2005.2 L1330.6 2007.7 L1333.2 2010.1 L1335.9 2012.5 L1338.5 2014.8 L1341.1 2017.0 L1343.8 2019.2 L1346.4 2021.4 L1349.1 2023.5 L1351.7 2025.5 L1354.3 2027.5 L1357.0 2029.5 L1359.6 2031.4 L1362.3 2033.2 L1364.9 2035.1 L1367.5 2036.8 L1370.2 2038.6 L1372.8 2040.3 L1375.5 2041.9 L1378.1 2043.5 L1380.7 2045.1 L1383.4 2046.7 L1386.0 2048.2 L1388.7 2049.6 L1391.3 2051.1 L1393.9 2052.5 L1396.6 2053.9 L1399.2 2055.2 L1401.9 2056.6 L1404.5 2057.9 L1407.1 2059.1 L1409.8 2060.4 L1412.4 2061.6 L1415.1 2062.8 L1417.7 2063.9 L1420.3 2065.1 L1423.0 2066.2 L1425.6 2067.3 L1428.3 2068.4 L1430.9 2069.4 L1433.5 2070.5 L1436.2 2071.5 L1438.8 2072.4 L1441.5 2073.4 L1444.1 2074.4 L1446.7 2075.3 L1449.4 2076.2 L1452.0 2077.1 L1454.7 2078.0 L1457.3 2078.8 L1459.9 2079.7 L1462.6 2080.5 L1465.2 2081.3 L1467.9 2082.1 L1470.5 2082.9 L1473.1 2083.7 L1475.8 2084.4 L1478.4 2085.2 L1481.1 2085.9 L1483.7 2086.6 L1486.3 2087.3 L1489.0 2088.0 L1491.6 2088.7 L1494.3 2089.4 L1496.9 2090.0 L1499.5 2090.7 L1502.2 2091.3 L1504.8 2091.9 L1507.5 2092.5 L1510.1 2093.1 L1512.7 2093.7 L1515.4 2094.3 L1518.0 2094.9 L1520.7 2095.4 L1523.3 2096.0 L1525.9 2096.5 L1528.6 2097.1 L1531.2 2097.6 L1533.9 2098.1 L1536.5 2098.6 L1539.1 2099.1 L1541.8 2099.6 L1544.4 2100.1 L1547.1 2100.6 L1549.7 2101.1 L1552.3 2101.5 L1555.0 2102.0 L1557.6 2102.5 L1560.3 2102.9 L1562.9 2103.3 L1565.5 2103.8 L1568.2 2104.2 L1570.8 2104.6 L1573.5 2105.1 L1576.1 2105.5 L1578.7 2105.9 L1581.4 2106.3 L1584.0 2106.7 L1586.7 2107.1 L1589.3 2107.4 L1591.9 2107.8 L1594.6 2108.2 L1597.2 2108.6 L1599.9 2108.9 L1602.5 2109.3 L1605.1 2109.7 L1607.8 2110.0 L1610.4 2110.4 L1613.1 2110.7 L1615.7 2111.1 L1618.3 2111.4 L1621.0 2111.8 L1623.6 2112.1 L1626.3 2112.4 L1628.9 2112.7 L1631.5 2113.1 L1634.2 2113.4 L1636.8 2113.7 L1639.5 2114.0 L1642.1 2114.3 L1644.7 2114.6 L1647.4 2114.9 L1650.0 2115.2 L1652.7 2115.5 L1655.3 2115.8 L1657.9 2116.1 L1660.6 2116.4 L1663.2 2116.7 L1665.9 2117.0 L1668.5 2117.3 L1671.1 2117.5 L1673.8 2117.8 L1676.4 2118.1 L1679.1 2118.4 L1681.7 2118.6 L1684.3 2118.9 L1687.0 2119.1 L1689.6 2119.4 L1692.3 2119.7 L1694.9 2119.9 L1697.5 2120.2 L1700.2 2120.4 L1702.8 2120.7 L1705.5 2120.9 L1708.1 2121.1 L1710.8 2121.4 L1713.4 2121.6 L1716.0 2121.8 L1718.7 2122.1 L1721.3 2122.3 L1724.0 2122.5 L1726.6 2122.8 L1729.2 2123.0 L1731.9 2123.2 L1734.5 2123.4 L1737.2 2123.6 L1739.8 2123.9 L1742.4 2124.1 L1745.1 2124.3 L1747.7 2124.5 L1750.4 2124.7 L1753.0 2124.9 L1755.6 2125.1 L1758.3 2125.3 L1760.9 2125.5 L1763.6 2125.7 L1766.2 2125.9 L1768.8 2126.1 L1771.5 2126.3 L1774.1 2126.5 L1776.8 2126.6 L1779.4 2126.8 L1782.0 2127.0 L1784.7 2127.2 L1787.3 2127.4 L1790.0 2127.6 L1792.6 2127.7 L1795.2 2127.9 L1797.9 2128.1 L1800.5 2128.3 L1803.2 2128.4 L1805.8 2128.6 L1808.4 2128.8 L1811.1 2128.9 L1813.7 2129.1 L1816.4 2129.3 L1819.0 2129.4 L1821.6 2129.6 L1824.3 2129.7 L1826.9 2129.9 L1829.6 2130.0 L1832.2 2130.2 L1834.8 2130.3 L1837.5 2130.5 L1840.1 2130.6 L1842.8 2130.8 L1845.4 2130.9 L1848.0 2131.1 L1850.7 2131.2 L1853.3 2131.4 L1856.0 2131.5 L1858.6 2131.7 L1861.2 2131.8 L1863.9 2131.9 L1866.5 2132.1 L1869.2 2132.2 L1871.8 2132.3 L1874.4 2132.5 L1877.1 2132.6 L1879.7 2132.7 L1882.4 2132.9 L1885.0 2133.0 L1887.6 2133.1 L1890.3 2133.2 L1892.9 2133.4 L1895.6 2133.5 L1898.2 2133.6 L1900.8 2133.7 L1903.5 2133.9 L1906.1 2134.0 L1908.8 2134.1 L1911.4 2134.2 L1914.0 2134.3 L1916.7 2134.4 L1919.3 2134.5 L1922.0 2134.7 L1924.6 2134.8 L1927.2 2134.9 L1929.9 2135.0 L1932.5 2135.1 L1935.2 2135.2 L1937.8 2135.3 L1940.4 2135.4 L1943.1 2135.5 L1945.7 2135.6 L1948.4 2135.7 L1951.0 2135.8 L1953.6 2135.9 L1956.3 2136.0 L1958.9 2136.1 L1961.6 2136.2 L1964.2 2136.3 L1966.8 2136.4 L1969.5 2136.5 L1972.1 2136.6 L1974.8 2136.7 L1977.4 2136.8 L1980.0 2136.9 L1982.7 2137.0 L1985.3 2137.1 L1988.0 2137.2 L1990.6 2137.3 L1993.2 2137.3 L1995.9 2137.4 L1998.5 2137.5 L2001.2 2137.6 L2003.8 2137.7 L2006.4 2137.8 L2009.1 2137.9 L2011.7 2137.9 L2014.4 2138.0 L2017.0 2138.1 L2019.6 2138.2 L2022.3 2138.3 L2024.9 2138.4 L2027.6 2138.4 L2030.2 2138.5 L2032.8 2138.6 L2035.5 2138.7 L2038.1 2138.7 L2040.8 2138.8 L2043.4 2138.9 L2046.0 2139.0 L2048.7 2139.0 L2051.3 2139.1 L2054.0 2139.2 L2056.6 2139.3 L2059.2 2139.3 L2061.9 2139.4 L2064.5 2139.5 L2067.2 2139.5 L2069.8 2139.6 L2072.4 2139.7 L2075.1 2139.7 L2077.7 2139.8 L2080.4 2139.9 L2083.0 2139.9 L2085.6 2140.0 L2088.3 2140.1 L2090.9 2140.1 L2093.6 2140.2 L2096.2 2140.3 L2098.8 2140.3 L2101.5 2140.4 L2104.1 2140.4 L2106.8 2140.5 L2109.4 2140.6 L2112.0 2140.6 L2114.7 2140.7 L2117.3 2140.7 L2120.0 2140.8 L2122.6 2140.8 L2125.2 2140.9 L2127.9 2141.0 L2130.5 2141.0 L2133.2 2141.1 L2135.8 2141.1 L2138.4 2141.2 L2141.1 2141.2 L2143.7 2141.3 L2146.4 2141.3 L2149.0 2141.4 L2151.6 2141.4 L2154.3 2141.5 L2156.9 2141.5 L2159.6 2141.6 L2162.2 2141.6" fill="none" stroke="#0000ff" stroke-width="8" stroke-linejoin="round" stroke-linecap="butt"/>
<path d="M316.8 2159.1 L319.4 2159.1 L322.1 2159.0 L324.7 2159.0 L327.4 2158.9 L330.0 2158.9 L332.6 2158.8 L335.3 2158.8 L337.9 2158.7 L340.6 2158.7 L343.2 2158.6 L345.8 2158.5 L348.5 2158.5 L351.1 2158.4 L353.8 2158.3 L356.4 2158.3 L359.0 2158.2 L361.7 2158.1 L364.3 2158.1 L367.0 2158.0 L369.6 2157.9 L372.2 2157.9 L374.9 2157.8 L377.5 2157.7 L380.2 2157.6 L382.8 2157.5 L385.4 2157.5 L388.1 2157.4 L390.7 2157.3 L393.4 2157.2 L396.0 2157.1 L398.6 2157.0 L401.3 2156.9 L403.9 2156.8 L406.6 2156.8 L409.2 2156.7 L411.8 2156.6 L414.5 2156.5 L417.1 2156.4 L419.8 2156.3 L422.4 2156.2 L425.0 2156.1 L427.7 2156.0 L430.3 2155.8 L433.0 2155.7 L435.6 2155.6 L438.2 2155.5 L440.9 2155.4 L443.5 2155.3 L446.2 2155.2 L448.8 2155.1 L451.4 2154.9 L454.1 2154.8 L456.7 2154.7 L459.4 2154.6 L462.0 2154.4 L464.6 2154.3 L467.3 2154.2 L469.9 2154.0 L472.6 2153.9 L475.2 2153.8 L477.8 2153.6 L480.5 2153.5 L483.1 2153.3 L485.8 2153.2 L488.4 2153.1 L491.0 2152.9 L493.7 2152.8 L496.3 2152.6 L499.0 2152.5 L501.6 2152.3 L504.2 2152.1 L506.9 2152.0 L509.5 2151.8 L512.2 2151.7 L514.8 2151.5 L517.4 2151.3 L520.1 2151.2 L522.7 2151.0 L525.4 2150.8 L528.0 2150.6 L530.6 2150.5 L533.3 2150.3 L535.9 2150.1 L538.6 2149.9 L541.2 2149.7 L543.8 2149.5 L546.5 2149.3 L549.1 2149.1 L551.8 2148.9 L554.4 2148.7 L557.0 2148.5 L559.7 2148.3 L562.3 2148.1 L565.0 2147.9 L567.6 2147.7 L570.2 2147.5 L572.9 2147.3 L575.5 2147.0 L578.2 2146.8 L580.8 2146.6 L583.4 2146.4 L586.1 2146.1 L588.7 2145.9 L591.4 2145.6 L594.0 2145.4 L596.6 2145.2 L599.3 2144.9 L601.9 2144.7 L604.6 2144.4 L607.2 2144.1 L609.8 2143.9 L612.5 2143.6 L615.1 2143.3 L617.8 2143.1 L620.4 2142.8 L623.0 2142.5 L625.7 2142.2 L628.3 2141.9 L631.0 2141.6 L633.6 2141.3 L636.2 2141.0 L638.9 2140.7 L641.5 2140.4 L644.2 2140.1 L646.8 2139.8 L649.4 2139.5 L652.1 2139.1 L654.7 2138.8 L657.4 2138.5 L660.0 2138.1 L662.6 2137.8 L665.3 2137.4 L667.9 2137.1 L670.6 2136.7 L673.2 2136.3 L675.8 2135.9 L678.5 2135.6 L681.1 2135.2 L683.8 2134.8 L686.4 2134.4 L689.0 2134.0 L691.7 2133.6 L694.3 2133.1 L697.0 2132.7 L699.6 2132.3 L702.2 2131.8 L704.9 2131.4 L707.5 2130.9 L710.2 2130.5 L712.8 2130.0 L715.4 2129.5 L718.1 2129.0 L720.7 2128.5 L723.4 2128.0 L726.0 2127.5 L728.6 2126.9 L731.3 2126.4 L733.9 2125.9 L736.6 2125.3 L739.2 2124.7 L741.8 2124.2 L744.5 2123.6 L747.1 2123.0 L749.8 2122.4 L752.4 2121.7 L755.0 2121.1 L757.7 2120.4 L760.3 2119.8 L763.0 2119.1 L765.6 2118.4 L768.2 2117.7 L770.9 2117.0 L773.5 2116.3 L776.2 2115.5 L778.8 2114.7 L781.5 2114.0 L784.1 2113.2 L786.7 2112.4 L789.4 2111.5 L792.0 2110.7 L794.7 2109.8 L797.3 2108.9 L799.9 2108.0 L802.6 2107.1 L805.2 2106.1 L807.9 2105.2 L810.5 2104.2 L813.1 2103.2 L815.8 2102.1 L818.4 2101.0 L821.1 2100.0 L823.7 2098.8 L826.3 2097.7 L829.0 2096.5 L831.6 2095.3 L834.3 2094.0 L836.9 2092.8 L839.5 2091.4 L842.2 2090.1 L844.8 2088.7 L847.5 2087.3 L850.1 2085.8 L852.7 2084.3 L855.4 2082.7 L858.0 2081.1 L860.7 2079.4 L863.3 2077.7 L865.9 2075.9 L868.6 2074.1 L871.2 2072.2 L873.9 2070.3 L876.5 2068.2 L879.1 2066.2 L881.8 2064.0 L884.4 2061.8 L887.1 2059.5 L889.7 2057.1 L892.3 2054.6 L895.0 2052.0 L897.6 2049.3 L900.3 2046.6 L902.9 2043.7 L905.5 2040.7 L908.2 2037.6 L910.8 2034.4 L913.5 2031.0 L916.1 2027.6 L918.7 2023.9 L921.4 2020.2 L924.0 2016.2 L926.7 2012.2 L929.3 2007.9 L931.9 2003.5 L934.6 1998.8 L937.2 1994.0 L939.9 1989.0 L942.5 1983.7 L945.1 1978.2 L947.8 1972.5 L950.4 1966.5 L953.1 1960.2 L955.7 1953.7 L958.3 1946.8 L961.0 1939.7 L963.6 1932.3 L966.3 1924.6 L968.9 1916.6 L971.5 1908.2 L974.2 1899.5 L976.8 1890.5 L979.5 1881.1 L982.1 1871.4 L984.7 1861.4 L987.4 1851.0 L990.0 1840.2 L992.7 1829.1 L995.3 1817.6 L997.9 1805.7 L1000.6 1793.5 L1003.2 1780.9 L1005.9 1767.9 L1008.5 1754.5 L1011.1 1740.8 L1013.8 1726.6 L1016.4 1712.0 L1019.1 1697.0 L1021.7 1681.6 L1024.3 1665.8 L1027.0 1649.6 L1029.6 1632.9 L1032.3 1615.8 L1034.9 1598.3 L1037.5 1580.4 L1040.2 1562.0 L1042.8 1543.3 L1045.5 1524.1 L1048.1 1504.4 L1050.7 1484.4 L1053.4 1463.9 L1056.0 1443.1 L1058.7 1421.8 L1061.3 1400.2 L1063.9 1378.2 L1066.6 1355.8 L1069.2 1333.0 L1071.9 1309.9 L1074.5 1286.5 L1077.1 1262.8 L1079.8 1238.8 L1082.4 1214.5 L1085.1 1189.9 L1087.7 1165.2 L1090.3 1140.2 L1093.0 1115.0 L1095.6 1089.7 L1098.3 1064.2 L1100.9 1038.6 L1103.5 1013.0 L1106.2 987.3 L1108.8 961.7 L1111.5 936.1 L1114.1 910.5 L1116.7 885.1 L1119.4 859.8 L1122.0 834.7 L1124.7 809.9 L1127.3 785.3 L1129.9 761.1 L1132.6 737.3 L1135.2 713.9 L1137.9 691.1 L1140.5 668.9 L1143.1 647.3 L1145.8 626.4 L1148.4 606.2 L1151.1 586.9 L1153.7 568.5 L1156.3 551.0 L1159.0 534.6 L1161.6 519.2 L1164.3 504.9 L1166.9 491.8 L1169.5 480.0 L1172.2 469.5 L1174.8 460.3 L1177.5 452.6 L1180.1 446.2 L1182.7 441.4 L1185.4 438.1 L1188.0 436.4 L1190.7 436.3 L1193.3 437.8 L1195.9 440.9 L1198.6 445.7 L1201.2 452.2 L1203.9 460.3 L1206.5 469.8 L1209.1 480.9 L1211.8 493.3 L1214.4 507.1 L1217.1 522.1 L1219.7 538.3 L1222.3 555.6 L1225.0 573.9 L1227.6 593.2 L1230.3 613.4 L1232.9 634.4 L1235.5 656.1 L1238.2 678.5 L1240.8 701.4 L1243.5 724.9 L1246.1 748.9 L1248.7 773.2 L1251.4 797.8 L1254.0 822.7 L1256.7 847.8 L1259.3 873.1 L1261.9 898.4 L1264.6 923.8 L1267.2 949.1 L1269.9 974.4 L1272.5 999.6 L1275.1 1024.6 L1277.8 1049.4 L1280.4 1074.0 L1283.1 1098.4 L1285.7 1122.5 L1288.3 1146.3 L1291.0 1169.8 L1293.6 1192.9 L1296.3 1215.8 L1298.9 1238.2 L1301.5 1260.4 L1304.2 1282.1 L1306.8 1303.5 L1309.5 1324.6 L1312.1 1345.2 L1314.7 1365.4 L1317.4 1385.3 L1320.0 1404.8 L1322.7 1423.8 L1325.3 1442.5 L1327.9 1460.8 L1330.6 1478.6 L1333.2 1496.1 L1335.9 1513.2 L1338.5 1529.8 L1341.1 1546.1 L1343.8 1562.0 L1346.4 1577.5 L1349.1 1592.6 L1351.7 1607.3 L1354.3 1621.6 L1357.0 1635.6 L1359.6 1649.2 L1362.3 1662.5 L1364.9 1675.3 L1367.5 1687.9 L1370.2 1700.0 L1372.8 1711.9 L1375.5 1723.4 L1378.1 1734.5 L1380.7 1745.4 L1383.4 1755.9 L1386.0 1766.1 L1388.7 1776.1 L1391.3 1785.7 L1393.9 1795.0 L1396.6 1804.0 L1399.2 1812.8 L1401.9 1821.3 L1404.5 1829.5 L1407.1 1837.5 L1409.8 1845.2 L1412.4 1852.6 L1415.1 1859.9 L1417.7 1866.8 L1420.3 1873.6 L1423.0 1880.1 L1425.6 1886.4 L1428.3 1892.5 L1430.9 1898.4 L1433.5 1904.1 L1436.2 1909.6 L1438.8 1914.9 L1441.5 1920.0 L1444.1 1924.9 L1446.7 1929.6 L1449.4 1934.2 L1452.0 1938.6 L1454.7 1942.9 L1457.3 1947.0 L1459.9 1950.9 L1462.6 1954.8 L1465.2 1958.5 L1467.9 1962.1 L1470.5 1965.5 L1473.1 1968.9 L1475.8 1972.1 L1478.4 1975.3 L1481.1 1978.3 L1483.7 1981.3 L1486.3 1984.1 L1489.0 1986.9 L1491.6 1989.6 L1494.3 1992.3 L1496.9 1994.9 L1499.5 1997.4 L1502.2 1999.8 L1504.8 2002.2 L1507.5 2004.5 L1510.1 2006.7 L1512.7 2009.0 L1515.4 2011.1 L1518.0 2013.2 L1520.7 2015.3 L1523.3 2017.3 L1525.9 2019.3 L1528.6 2021.2 L1531.2 2023.1 L1533.9 2024.9 L1536.5 2026.7 L1539.1 2028.5 L1541.8 2030.2 L1544.4 2031.9 L1547.1 2033.5 L1549.7 2035.2 L1552.3 2036.7 L1555.0 2038.3 L1557.6 2039.8 L1560.3 2041.3 L1562.9 2042.7 L1565.5 2044.2 L1568.2 2045.6 L1570.8 2046.9 L1573.5 2048.3 L1576.1 2049.6 L1578.7 2050.9 L1581.4 2052.2 L1584.0 2053.4 L1586.7 2054.6 L1589.3 2055.8 L1591.9 2057.0 L1594.6 2058.1 L1597.2 2059.3 L1599.9 2060.4 L1602.5 2061.5 L1605.1 2062.6 L1607.8 2063.6 L1610.4 2064.6 L1613.1 2065.7 L1615.7 2066.7 L1618.3 2067.6 L1621.0 2068.6 L1623.6 2069.6 L1626.3 2070.5 L1628.9 2071.4 L1631.5 2072.3 L1634.2 2073.2 L1636.8 2074.1 L1639.5 2074.9 L1642.1 2075.8 L1644.7 2076.6 L1647.4 2077.4 L1650.0 2078.2 L1652.7 2079.0 L1655.3 2079.8 L1657.9 2080.6 L1660.6 2081.3 L1663.2 2082.1 L1665.9 2082.8 L1668.5 2083.5 L1671.1 2084.2 L1673.8 2084.9 L1676.4 2085.6 L1679.1 2086.3 L1681.7 2087.0 L1684.3 2087.6 L1687.0 2088.3 L1689.6 2088.9 L1692.3 2089.5 L1694.9 2090.2 L1697.5 2090.8 L1700.2 2091.4 L1702.8 2092.0 L1705.5 2092.5 L1708.1 2093.1 L1710.8 2093.7 L1713.4 2094.2 L1716.0 2094.8 L1718.7 2095.3 L1721.3 2095.9 L1724.0 2096.4 L1726.6 2096.9 L1729.2 2097.4 L1731.9 2097.9 L1734.5 2098.4 L1737.2 2098.9 L1739.8 2099.4 L1742.4 2099.9 L1745.1 2100.3 L1747.7 2100.8 L1750.4 2101.3 L1753.0 2101.7 L1755.6 2102.2 L1758.3 2102.6 L1760.9 2103.0 L1763.6 2103.5 L1766.2 2103.9 L1768.8 2104.3 L1771.5 2104.7 L1774.1 2105.1 L1776.8 2105.5 L1779.4 2105.9 L1782.0 2106.3 L1784.7 2106.7 L1787.3 2107.1 L1790.0 2107.4 L1792.6 2107.8 L1795.2 2108.2 L1797.9 2108.5 L1800.5 2108.9 L1803.2 2109.2 L1805.8 2109.6 L1808.4 2109.9 L1811.1 2110.3 L1813.7 2110.6 L1816.4 2110.9 L1819.0 2111.3 L1821.6 2111.6 L1824.3 2111.9 L1826.9 2112.2 L1829.6 2112.5 L1832.2 2112.8 L1834.8 2113.1 L1837.5 2113.4 L1840.1 2113.7 L1842.8 2114.0 L1845.4 2114.3 L1848.0 2114.6 L1850.7 2114.9 L1853.3 2115.2 L1856.0 2115.4 L1858.6 2115.7 L1861.2 2116.0 L1863.9 2116.3 L1866.5 2116.5 L1869.2 2116.8 L1871.8 2117.0 L1874.4 2117.3 L1877.1 2117.6 L1879.7 2117.8 L1882.4 2118.1 L1885.0 2118.3 L1887.6 2118.5 L1890.3 2118.8 L1892.9 2119.0 L1895.6 2119.3 L1898.2 2119.5 L1900.8 2119.7 L1903.5 2120.0 L1906.1 2120.2 L1908.8 2120.4 L1911.4 2120.6 L1914.0 2120.9 L1916.7 2121.1 L1919.3 2121.3 L1922.0 2121.5 L1924.6 2121.7 L1927.2 2121.9 L1929.9 2122.1 L1932.5 2122.3 L1935.2 2122.6 L1937.8 2122.8 L1940.4 2123.0 L1943.1 2123.2 L1945.7 2123.4 L1948.4 2123.6 L1951.0 2123.7 L1953.6 2123.9 L1956.3 2124.1 L1958.9 2124.3 L1961.6 2124.5 L1964.2 2124.7 L1966.8 2124.9 L1969.5 2125.1 L1972.1 2125.3 L1974.8 2125.4 L1977.4 2125.6 L1980.0 2125.8 L1982.7 2126.0 L1985.3 2126.1 L1988.0 2126.3 L1990.6 2126.5 L1993.2 2126.7 L1995.9 2126.8 L1998.5 2127.0 L2001.2 2127.2 L2003.8 2127.3 L2006.4 2127.5 L2009.1 2127.7 L2011.7 2127.8 L2014.4 2128.0 L2017.0 2128.2 L2019.6 2128.3 L2022.3 2128.5 L2024.9 2128.7 L2027.6 2128.8 L2030.2 2129.0 L2032.8 2129.1 L2035.5 2129.3 L2038.1 2129.4 L2040.8 2129.6 L2043.4 2129.7 L2046.0 2129.9 L2048.7 2130.0 L2051.3 2130.2 L2054.0 2130.4 L2056.6 2130.5 L2059.2 2130.6 L2061.9 2130.8 L2064.5 2130.9 L2067.2 2131.1 L2069.8 2131.2 L2072.4 2131.4 L2075.1 2131.5 L2077.7 2131.7 L2080.4 2131.8 L2083.0 2132.0 L2085.6 2132.1 L2088.3 2132.2 L2090.9 2132.4 L2093.6 2132.5 L2096.2 2132.7 L2098.8 2132.8 L2101.5 2132.9 L2104.1 2133.1 L2106.8 2133.2 L2109.4 2133.4 L2112.0 2133.5 L2114.7 2133.6 L2117.3 2133.8 L2120.0 2133.9 L2122.6 2134.0 L2125.2 2134.2 L2127.9 2134.3 L2130.5 2134.4 L2133.2 2134.6 L2135.8 2134.7 L2138.4 2134.8 L2141.1 2135.0 L2143.7 2135.1 L2146.4 2135.2 L2149.0 2135.4 L2151.6 2135.5 L2154.3 2135.6 L2156.9 2135.8 L2159.6 2135.9 L2162.2 2136.0" fill="none" stroke="#ff00ff" stroke-width="8" stroke-linejoin="round" stroke-linecap="butt"/>
<g font-size="78" text-anchor="middle">
<text x="414.9" y="2276.5">2</text>
<text x="608.8" y="2276.5">4</text>
<text x="802.7" y="2276.5">6</text>
<text x="996.6" y="2276.5">8</text>
<text x="1190.5" y="2276.5">10</text>
<text x="1384.4" y="2276.5">12</text>
<text x="1578.3" y="2276.5">14</text>
<text x="1772.2" y="2276.5">16</text>
<text x="1966.1" y="2276.5">18</text>
<text x="2160.0" y="2276.5">20</text>
</g>
<g font-size="78" text-anchor="end">
<text x="294.5" y="2183.5">0</text>
<text x="294.5" y="1830.6">1</text>
<text x="294.5" y="1477.7">2</text>
<text x="294.5" y="1124.8">3</text>
<text x="294.5" y="771.9">4</text>
<text x="294.5" y="419.0">5</text>
<text x="294.5" y="66.1">6</text>
</g>
<line x1="1629" y1="153.0" x2="1805" y2="153.0" stroke="#000000" stroke-width="8" stroke-linecap="round"/>
<line x1="1629" y1="286.2" x2="1805" y2="286.2" stroke="#ff0000" stroke-width="8" stroke-linecap="round"/>
<line x1="1629" y1="419.0" x2="1805" y2="419.0" stroke="#0000ff" stroke-width="8" stroke-linecap="round"/>
<line x1="1629" y1="552.0" x2="1805" y2="552.0" stroke="#ff00ff" stroke-width="8" stroke-linecap="round"/>
<text transform="translate(1825.3,181.0) scale(0.96,1)" font-size="84">a=1.2 a</text>
<text x="2061" y="208.8" font-size="48.5">D</text>
<text x="2062" y="142.0" font-size="48.5">*</text>
<text transform="translate(1825.3,314.2) scale(0.96,1)" font-size="84">a=1.4 a</text>
<text x="2061" y="342.0" font-size="48.5">D</text>
<text x="2062" y="275.2" font-size="48.5">*</text>
<text transform="translate(1825.3,447.0) scale(0.96,1)" font-size="84">a=1.6 a</text>
<text x="2061" y="474.8" font-size="48.5">D</text>
<text x="2062" y="408.0" font-size="48.5">*</text>
<text transform="translate(1825.3,580.0) scale(0.96,1)" font-size="84">a=1.8 a</text>
<text x="2061" y="607.8" font-size="48.5">D</text>
<text x="2062" y="541.0" font-size="48.5">*</text>
<text transform="translate(375.5,146.9) scale(0.957,1)" font-size="63.7">-Shell radius b = 2a</text>
<text x="853.3" y="168" font-size="39">D</text>
<text x="853.5" y="116.3" font-size="39">*</text>
<text transform="translate(375.5,245.3) scale(0.957,1)" font-size="63.7">-NW height h = 20a</text>
<text x="862.2" y="267" font-size="39">D</text>
<text x="862.4" y="215.5" font-size="39">*</text>
<text transform="translate(1125,2403) scale(1.28,1.02)" font-size="100" font-style="italic" style="stroke-width:1px">ħ</text>
<text transform="translate(1188,2403) scale(1.066,1)" font-size="92" style="stroke-width:1.6px">ω</text>
<text y="2403" font-size="92"><tspan x="1273.5">(me</tspan><tspan x="1412">V</tspan><tspan x="1478.7">)</tspan></text>
<g transform="translate(109,1430) rotate(-90)"><text transform="translate(-4.6,1.5) scale(1.155,0.93)" font-size="92">σ</text><text x="75" y="0" font-size="92" class="sans">x</text><text x="146" y="0" font-size="92">(10</text><text x="268" y="-45" font-size="56">-15</text><text x="365" y="0" font-size="92">cm</text><text x="476" y="-45" font-size="56">2</text><text x="507" y="0" font-size="92">)</text></g>
</svg></body></html>
